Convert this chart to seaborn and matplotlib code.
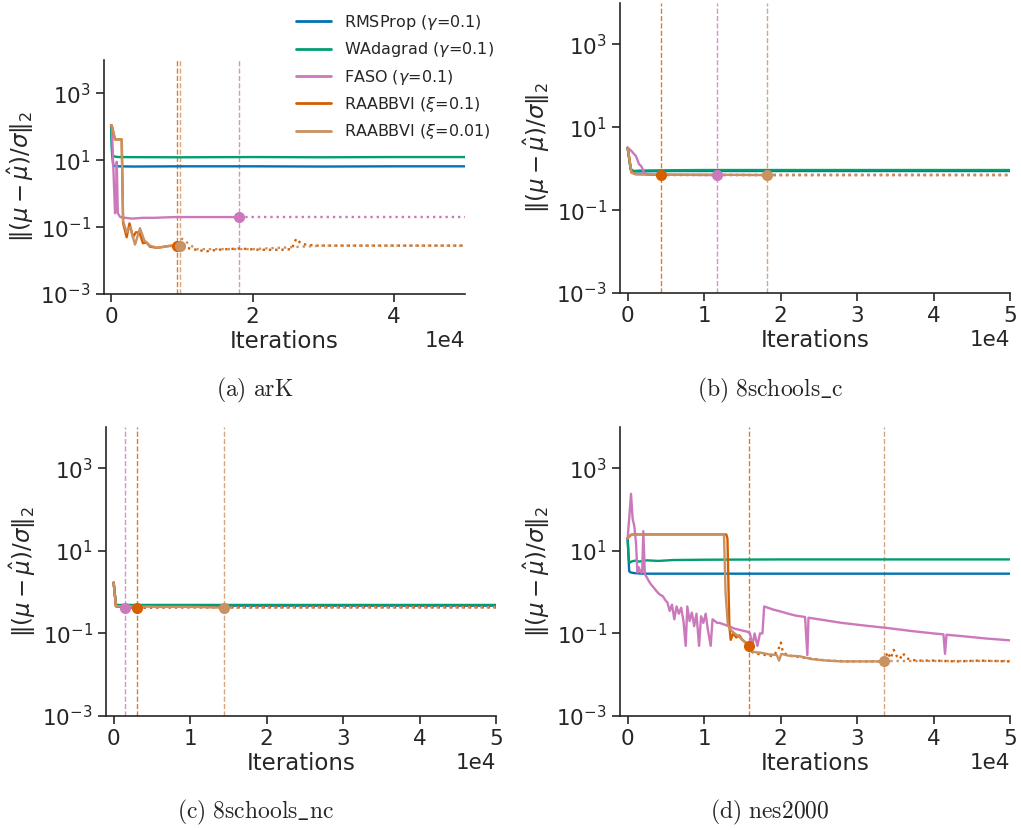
import matplotlib
matplotlib.use("Agg")
import matplotlib.pyplot as plt
import seaborn as sns
from matplotlib.lines import Line2D
from matplotlib.ticker import FixedLocator, NullLocator

# ---------------------------------------------------------------- data
LABELS = [r"RMSProp ($\gamma$=0.1)", r"WAdagrad ($\gamma$=0.1)", r"FASO ($\gamma$=0.1)",
          r"RAABBVI ($\xi$=0.1)", r"RAABBVI ($\xi$=0.01)"]
CAPTIONS = ["(a) arK", "(b) 8schools\\_c", "(c) 8schools\\_nc", "(d) nes2000"]

# ---- (a) arK
A_RMS_X = [0, 150, 300, 600, 1000, 3000, 10000, 20000, 30000, 40000, 50000]
A_RMS_Y = [110, 15, 7.0, 6.7, 6.6, 6.5, 6.6, 6.6, 6.5, 6.6, 6.6]
A_WAD_X = [0, 150, 300, 600, 1000, 3000, 10000, 20000, 30000, 40000, 50000]
A_WAD_Y = [110, 16, 13.5, 12.8, 12.5, 12.4, 12.3, 12.5, 12.3, 12.5, 12.5]
A_FASO_X = [0, 100, 560, 700, 800, 950, 1300, 2000, 3000, 4500, 6000, 9000, 12000, 15000, 18070,
            25000, 35000, 50000]
A_FASO_Y = [110, 110, 0.26, 0.5, 9.0, 0.26, 0.2, 0.19, 0.18, 0.19, 0.19, 0.2, 0.2, 0.2, 0.2,
            0.2, 0.2, 0.2]
A_R1_X = [0, 100, 560, 1000, 1500, 1700, 2200, 2600, 3100, 3500, 4000, 4500, 5000, 5500, 6500,
          7500, 8500, 9250, 10000, 10700, 12000, 13500, 15000, 18000, 21000, 24000, 25500,
          26150, 26800, 27500, 29000, 33000, 40000, 50000]
A_R1_Y = [110, 110, 42, 42, 42, 0.13, 0.05, 0.13, 0.05, 0.07, 0.07, 0.033, 0.035, 0.026, 0.024,
          0.026, 0.028, 0.028, 0.03, 0.024, 0.021, 0.019, 0.021, 0.023, 0.021, 0.021, 0.022,
          0.045, 0.033, 0.03, 0.028, 0.028, 0.028, 0.028]
A_R01_X = [0, 100, 560, 1000, 1500, 1700, 2200, 2700, 3380, 4080, 4700, 5500, 6500, 8000, 9720,
           10000, 12000, 20000, 30000, 40000, 50000]
A_R01_Y = [110, 110, 42, 42, 42, 0.15, 0.07, 0.1, 0.03, 0.093, 0.04, 0.028, 0.024, 0.027, 0.028,
           0.045, 0.022, 0.022, 0.028, 0.028, 0.028]
A_STOPS = [None, None, 18070, 9250, 9720]

# ---- (b) 8schools_c
B_RMS_X = [0, 400, 800, 1500, 3000, 6000, 10000, 20000, 30000, 40000, 50000]
B_RMS_Y = [3.2, 0.95, 0.86, 0.86, 0.87, 0.88, 0.88, 0.88, 0.88, 0.88, 0.88]
B_WAD_X = [0, 400, 800, 1500, 3000, 6000, 10000, 20000, 30000, 40000, 50000]
B_WAD_Y = [3.2, 0.98, 0.88, 0.9, 0.91, 0.92, 0.93, 0.93, 0.93, 0.93, 0.93]
B_FASO_X = [0, 400, 1100, 1500, 1700, 1900, 2130, 2600, 4000, 8000, 11740, 20000, 35000, 50000]
B_FASO_Y = [3.2, 2.8, 2.0, 1.27, 1.2, 1.05, 0.8, 0.72, 0.72, 0.71, 0.70, 0.70, 0.70, 0.70]
B_R1_X = [0, 500, 1000, 2500, 4410, 10000, 30000, 50000]
B_R1_Y = [3.2, 0.81, 0.74, 0.73, 0.70, 0.70, 0.70, 0.70]
B_R01_X = [0, 500, 1000, 2500, 6000, 10000, 15000, 18280, 30000, 50000]
B_R01_Y = [3.2, 0.81, 0.74, 0.73, 0.72, 0.72, 0.71, 0.70, 0.70, 0.70]
B_STOPS = [None, None, 11740, 4410, 18280]

# ---- (c) 8schools_nc
C_RMS_X = [0, 150, 300, 600, 1500, 5000, 10000, 20000, 35000, 50000]
C_RMS_Y = [1.7, 0.9, 0.48, 0.47, 0.47, 0.47, 0.47, 0.47, 0.47, 0.47]
C_WAD_X = [0, 150, 300, 600, 1500, 5000, 10000, 20000, 35000, 50000]
C_WAD_Y = [1.7, 0.9, 0.5, 0.49, 0.49, 0.49, 0.49, 0.49, 0.49, 0.49]
C_FASO_X = [0, 150, 300, 800, 1440, 5000, 20000, 50000]
C_FASO_Y = [1.7, 0.9, 0.46, 0.44, 0.41, 0.43, 0.43, 0.43]
C_R1_X = [0, 150, 300, 1000, 2000, 3100, 10000, 30000, 50000]
C_R1_Y = [1.7, 0.9, 0.45, 0.44, 0.44, 0.42, 0.43, 0.43, 0.43]
C_R01_X = [0, 150, 300, 1000, 3000, 6000, 10000, 14400, 30000, 50000]
C_R01_Y = [1.7, 0.9, 0.46, 0.45, 0.45, 0.44, 0.44, 0.42, 0.43, 0.43]
C_STOPS = [None, None, 1440, 3100, 14400]

# ---- (d) nes2000
D_RMS_X = [0, 200, 400, 800, 2000, 5000, 10000, 20000, 35000, 50000]
D_RMS_Y = [20, 3.2, 3.0, 2.9, 2.8, 2.8, 2.8, 2.8, 2.8, 2.8]
D_WAD_X = [0, 150, 300, 600, 1000, 1500, 2500, 4000, 6000, 10000, 20000, 30000, 40000, 50000]
D_WAD_Y = [20, 6.0, 5.2, 5.6, 5.8, 5.5, 5.9, 5.7, 6.0, 6.1, 6.2, 6.2, 6.2, 6.2]
D_FASO_X = [0, 200, 440, 650, 870, 1100, 1270, 1450, 1700, 1900, 2050, 2250, 2500, 2800, 3100,
            3400, 3700, 4000, 4300, 4600, 4900, 5200, 5500, 5800, 6100, 6400, 6700, 7000, 7300,
            7590, 7800, 8100, 8400, 8700, 9000, 9340, 9600, 9900, 10200, 10500, 10860, 11100,
            11400, 11700, 12000, 12400, 12800, 13200, 13600, 14000, 14400, 14800, 15200, 15660,
            16000, 16320, 16600, 16970, 17300, 17630, 17850, 19000, 20000, 21000, 22000, 23200,
            23500, 23650, 25000, 28000, 31000, 34000, 37000, 40000, 41300, 41500, 41700, 44000,
            47000, 50000]
D_FASO_Y = [20, 60, 240, 60, 40, 15, 3.0, 4.0, 3.0, 3.0, 30, 2.7, 2.3, 1.8, 1.5, 1.3, 1.1, 0.95,
            0.85, 0.8, 0.65, 0.56, 0.35, 0.5, 0.22, 0.45, 0.3, 0.42, 0.2, 0.05, 0.45, 0.2, 0.32,
            0.15, 0.3, 0.05, 0.26, 0.18, 0.3, 0.12, 0.05, 0.22, 0.2, 0.18, 0.18, 0.17, 0.16, 0.15,
            0.14, 0.13, 0.125, 0.12, 0.115, 0.11, 0.1, 0.05, 0.1, 0.05, 0.1, 0.1, 0.45, 0.38, 0.34,
            0.3, 0.27, 0.25, 0.03, 0.24, 0.22, 0.18, 0.155, 0.135, 0.115, 0.1, 0.095, 0.032, 0.093,
            0.085, 0.075, 0.068]
D_R1_X = [0, 300, 570, 2000, 5000, 8000, 11000, 12900, 13050, 13300, 13480, 13800, 14200, 14600,
          15000, 15400, 15850, 16300, 17000, 18000, 19000, 19700, 20030, 20300, 21000, 23000,
          26000, 29000, 32000, 33500, 34000, 34400, 34800, 35200, 35600, 36000, 36500, 37000,
          38000, 40000, 43000, 46000, 50000]
D_R1_Y = [20, 23, 25, 25, 25, 25, 25, 25, 20, 0.15, 0.07, 0.1, 0.08, 0.09, 0.07, 0.06, 0.05,
          0.035, 0.032, 0.03, 0.028, 0.04, 0.06, 0.035, 0.029, 0.026, 0.022, 0.021, 0.021, 0.021,
          0.035, 0.025, 0.04, 0.028, 0.024, 0.033, 0.025, 0.023, 0.022, 0.022, 0.021, 0.022, 0.021]
D_R01_X = [0, 300, 570, 2000, 5000, 8000, 11000, 12600, 12800, 13100, 13500, 14000, 14500, 15000,
           15500, 15900, 16300, 16800, 17500, 18500, 19500, 19800, 20100, 21000, 22500, 24000,
           26000, 28000, 30000, 32000, 33500, 40000, 50000]
D_R01_Y = [20, 24, 25, 25, 25, 25, 25, 25, 1.0, 0.16, 0.12, 0.1, 0.085, 0.07, 0.06, 0.045, 0.036,
           0.035, 0.034, 0.031, 0.03, 0.022, 0.032, 0.029, 0.028, 0.024, 0.022, 0.021, 0.021,
           0.021, 0.021, 0.021, 0.021]
D_STOPS = [None, None, None, 15850, 33500]

X_TICKS_A = [0, 20000, 40000]
X_TICKS = [0, 10000, 20000, 30000, 40000, 50000]
Y_TICKS = [1e-3, 1e-1, 1e1, 1e3]

PANELS = [
    ([(A_RMS_X, A_RMS_Y), (A_WAD_X, A_WAD_Y), (A_FASO_X, A_FASO_Y), (A_R1_X, A_R1_Y),
      (A_R01_X, A_R01_Y)], A_STOPS, X_TICKS_A),
    ([(B_RMS_X, B_RMS_Y), (B_WAD_X, B_WAD_Y), (B_FASO_X, B_FASO_Y), (B_R1_X, B_R1_Y),
      (B_R01_X, B_R01_Y)], B_STOPS, X_TICKS),
    ([(C_RMS_X, C_RMS_Y), (C_WAD_X, C_WAD_Y), (C_FASO_X, C_FASO_Y), (C_R1_X, C_R1_Y),
      (C_R01_X, C_R01_Y)], C_STOPS, X_TICKS),
    ([(D_RMS_X, D_RMS_Y), (D_WAD_X, D_WAD_Y), (D_FASO_X, D_FASO_Y), (D_R1_X, D_R1_Y),
      (D_R01_X, D_R01_Y)], D_STOPS, X_TICKS),
]

# ---------------------------------------------------------------- style
sns.set_theme(style="ticks")
plt.rcParams["font.family"] = ["DejaVu Sans"]
pal = sns.color_palette("colorblind")
COLORS = [pal[0], pal[2], pal[4], pal[3], pal[5]]

W, H = 1021, 830
fig = plt.figure(figsize=(W / 100, H / 100), dpi=100)

# axes boxes in pixels: left, top, right, bottom
BOXES = [(104, 60, 465, 294), (620, 3, 1010, 293), (106, 427, 496, 716), (620, 427, 1010, 716)]
CAP_POS = [(255, 390), (770, 390), (256, 812), (770, 812)]

LW = 1.7
for (series, stops, xticks), box, cap, cpos in zip(PANELS, BOXES, CAPTIONS, CAP_POS):
    l, t, r, b = box
    ax = fig.add_axes([l / W, 1 - b / H, (r - l) / W, (b - t) / H])
    for i, ((xs, ys), stop) in enumerate(zip(series, stops)):
        c = COLORS[i]
        if stop is None:
            sns.lineplot(x=xs, y=ys, ax=ax, color=c, lw=LW, estimator=None, sort=False)
        else:
            k = xs.index(stop)
            sns.lineplot(x=xs[:k + 1], y=ys[:k + 1], ax=ax, color=c, lw=LW,
                         estimator=None, sort=False)
            sns.lineplot(x=xs[k:], y=ys[k:], ax=ax, color=c, lw=LW, linestyle=":",
                         estimator=None, sort=False)
            ax.plot([xs[k]], [ys[k]], "o", color=c, ms=7, zorder=5)
            ax.axvline(stop, color=c, lw=1.0, ls="--", alpha=0.8, zorder=1)
    ax.set_yscale("log")
    ax.set_ylim(1e-3, 1e4)
    ax.set_xlim(-1000, 50000)
    ax.yaxis.set_major_locator(FixedLocator(Y_TICKS))
    ax.yaxis.set_minor_locator(NullLocator())
    ax.xaxis.set_major_locator(FixedLocator(xticks))
    ax.ticklabel_format(style="sci", axis="x", scilimits=(0, 0))
    ax.xaxis.get_offset_text().set_fontsize(15.5)
    ax.tick_params(labelsize=15.5, length=6, width=1.2)
    ax.set_xlabel("Iterations", fontsize=16.5, labelpad=2)
    ax.set_ylabel(r"$\Vert(\mu-\hat{\mu})/\sigma\Vert_2$", fontsize=16.5, labelpad=3)
    for s in ax.spines.values():
        s.set_linewidth(1.2)
    sns.despine(ax=ax)
    fig.text(cpos[0] / W, 1 - cpos[1] / H, r"$\mathrm{" + cap.replace(" ", r"\ ") + "}$",
             ha="center", va="center", fontsize=17, math_fontfamily="cm")

handles = [Line2D([0], [0], color=c, lw=2) for c in COLORS]
fig.legend(handles, LABELS, loc="upper left", bbox_to_anchor=(296 / W, 1 - 13 / H),
           frameon=False, fontsize=11.5, borderpad=0, borderaxespad=0, handlelength=2.2,
           handletextpad=0.8, labelspacing=0.52)

fig.savefig("out.png", dpi=100)
